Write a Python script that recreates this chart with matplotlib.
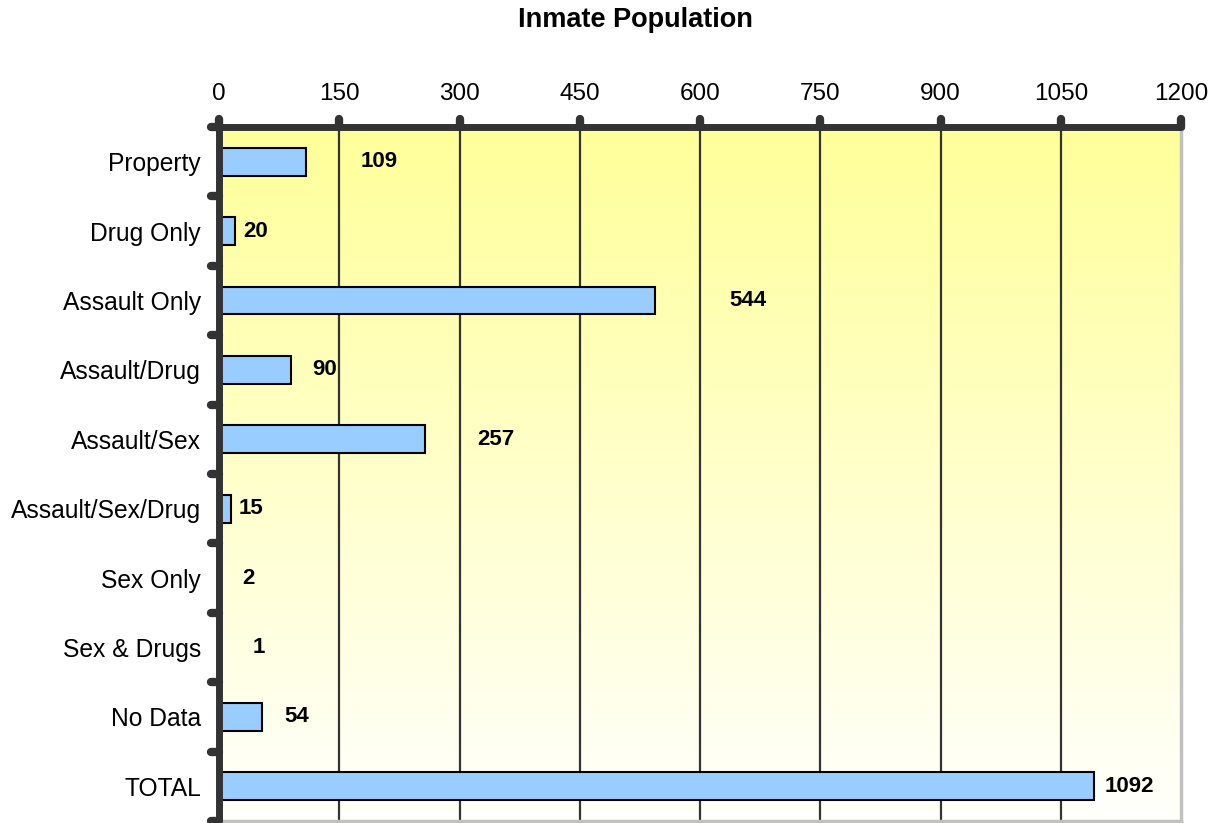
import matplotlib
matplotlib.use('agg')
import matplotlib.pyplot as plt
from matplotlib.markers import MarkerStyle
import matplotlib.markers as mmarkers
import numpy as np

plt.rcParams['font.family'] = ['Liberation Sans', 'DejaVu Sans']

# Inmate counts by offense type
categories = ['Property', 'Drug Only', 'Assault Only', 'Assault/Drug', 'Assault/Sex',
              'Assault/Sex/Drug', 'Sex Only', 'Sex & Drugs', 'No Data', 'TOTAL']
counts = [109, 20, 544, 90, 257, 15, 2, 1, 54, 1092]
x_ticks = [0, 150, 300, 450, 600, 750, 900, 1050, 1200]

# horizontal gap (px) between each bar end and its value label
label_gap_px = [54, 8, 74, 21, 52, 8, 22, 33, 22, 10]

fig = plt.figure(figsize=(12.22, 8.23), dpi=100)
ax = fig.add_axes([219 / 1222, 2 / 823, (1181 - 219) / 1222, (821 - 127) / 823])

# yellow-to-white gradient behind the plot
grad = np.linspace(0, 1, 256).reshape(-1, 1)
top = np.array([1.0, 1.0, 0.6])
bottom = np.array([1.0, 1.0, 0.99])
img = top[None, None, :] * (1 - grad[..., None]) + bottom[None, None, :] * grad[..., None]
ax.imshow(img, extent=[0, 1, 0, 1], transform=ax.transAxes, aspect='auto', zorder=0)

y = np.arange(len(categories))
ax.barh(y, counts, height=0.4, color='#99CCFF', edgecolor='black', linewidth=1.5, zorder=3)

ax.set_xlim(0, 1200)
ax.set_ylim(len(categories) - 0.5, -0.5)

for xv in x_ticks[1:-1]:
    ax.axvline(xv, color='#333333', linewidth=1.6, zorder=2)

for yi, v, gap in zip(y, counts, label_gap_px):
    ax.annotate(str(v), xy=(v, yi), xytext=(gap * 0.72, 0), textcoords='offset points',
                ha='left', va='center', fontsize=16, fontweight='bold', zorder=4)

ax.xaxis.tick_top()
ax.set_xticks(x_ticks)
ax.set_xticklabels([str(t) for t in x_ticks], fontsize=17.5)
ax.set_yticks(y)
ax.set_yticklabels(categories, fontsize=17.7)
ax.set_yticks(np.arange(len(categories) + 1) - 0.5, minor=True)
ax.tick_params(axis='y', which='major', length=0, pad=13)
ax.tick_params(axis='y', which='minor', length=6, width=6, color='#333333', direction='out')
ax.tick_params(axis='x', which='major', length=6, width=6, color='#333333', direction='out', pad=10)

for t in ax.xaxis.get_major_ticks():
    t.tick2line.set_marker(MarkerStyle(mmarkers.TICKUP, capstyle='round'))
for t in ax.yaxis.get_minor_ticks():
    t.tick1line.set_marker(MarkerStyle(mmarkers.TICKLEFT, capstyle='round'))

for side in ['top', 'left']:
    ax.spines[side].set_color('#333333')
    ax.spines[side].set_linewidth(5)
    ax.spines[side].set_capstyle('round')
for side in ['right', 'bottom']:
    ax.spines[side].set_color('#C0C0C0')
    ax.spines[side].set_linewidth(2.5)
ax.spines['top'].set_zorder(5)
ax.spines['left'].set_zorder(5)

fig.text(635 / 1222, 1 - 20 / 823, 'Inmate Population', ha='center', va='center',
         fontsize=19.5, fontweight='bold')

fig.savefig('out.png', dpi=100)
